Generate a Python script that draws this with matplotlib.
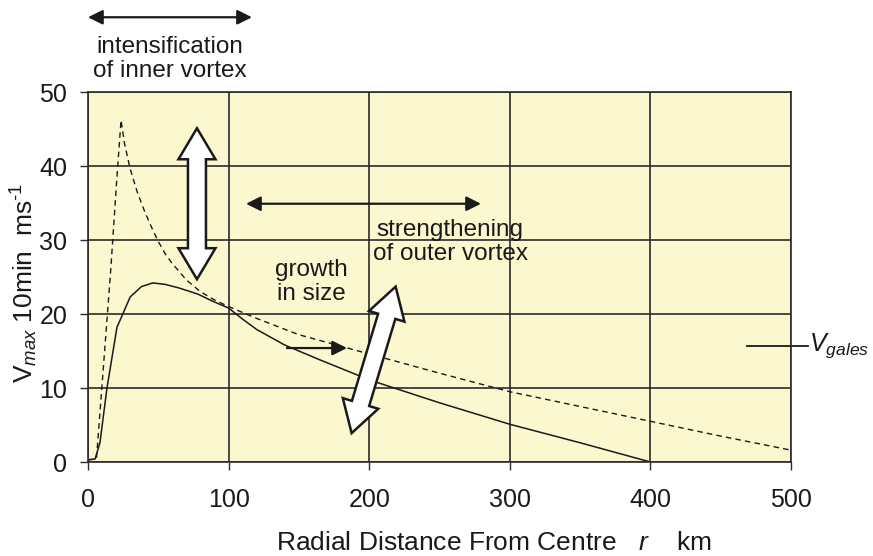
import numpy as np
import matplotlib
matplotlib.use("Agg")
import matplotlib.pyplot as plt
from matplotlib.patches import Polygon
from matplotlib.transforms import IdentityTransform

plt.rcParams['font.family'] = ['Liberation Sans', 'DejaVu Sans']
plt.rcParams['mathtext.fontset'] = 'custom'
plt.rcParams['mathtext.rm'] = 'Liberation Sans'
plt.rcParams['mathtext.it'] = 'Liberation Sans:italic'

# profile after intensification / growth (solid)
r_solid = [0, 5, 8.5, 13.5, 20.6, 30, 38, 46, 55, 65, 78, 89, 100, 110, 120, 140, 165, 191, 200, 250, 300, 350, 400]
v_solid = [0.3, 0.4, 2.6, 10.0, 18.2, 22.3, 23.7, 24.2, 24.0, 23.5, 22.7, 21.7, 20.8, 19.3, 17.9, 15.8, 13.8, 11.8, 11.1, 8.0, 5.1, 2.6, 0.0]

# profile with intense inner core (dashed)
r_dash = [0, 6, 16, 20.4, 23.5, 26, 30, 35, 40, 45, 50, 55, 60, 70, 80, 90, 100, 120, 150, 200, 250, 300, 350, 400, 450, 500]
v_dash = [0.3, 0.4, 25.5, 38.0, 46.2, 43.0, 39.6, 36.5, 34.0, 31.8, 29.8, 28.1, 26.8, 24.6, 23.0, 21.9, 21.0, 19.4, 17.2, 14.6, 12.0, 9.5, 7.5, 5.5, 3.5, 1.6]

x_ticks = [0, 100, 200, 300, 400, 500]
y_ticks = [0, 10, 20, 30, 40, 50]
v_gales = 15.7

fig = plt.figure(figsize=(8.73, 5.56), dpi=100)
ax = fig.add_axes([88 / 873, 1 - 462 / 556, (791 - 88) / 873, (462 - 92) / 556])
ax.set_facecolor('#fbf7cf')
ax.set_xlim(0, 500)
ax.set_ylim(0, 50)
ax.set_xticks(x_ticks)
ax.set_yticks(y_ticks)
ax.grid(True, color='#2b2b2b', linewidth=1.2)
ax.set_axisbelow(True)
for s in ax.spines.values():
    s.set_color('#2b2b2b')
    s.set_linewidth(1.2)
ax.tick_params(axis='both', direction='out', length=6, width=1, color='#2b2b2b',
               labelsize=18, labelcolor='#1a1a1a')
ax.tick_params(axis='x', pad=13)
ax.tick_params(axis='y', pad=9)

ax.plot(r_solid, v_solid, color='#1a1a1a', linewidth=1.1)
ax.plot(r_dash, v_dash, color='#1a1a1a', linewidth=1.0, linestyle=(0, (4, 3)))

# labels
fig.text(494 / 873, 1 - 543 / 556, r'Radial Distance From Centre   $\mathit{r}$    km',
         ha='center', va='center', fontsize=19, color='#1a1a1a')
fig.text(24 / 873, 1 - 283 / 556, r'$\mathrm{V}_{\mathit{max}}$ 10min  ms$^{\text{-1}}$',
         ha='center', va='center', rotation=90, fontsize=19, color='#1a1a1a')

# thin black arrows
arrow_kw = dict(arrowstyle='<|-|>', color='#1a1a1a', lw=1.6, mutation_scale=22,
                shrinkA=0, shrinkB=0)
ax.annotate('', xy=(0, 60.1), xytext=(116.6, 60.1), arrowprops=arrow_kw, annotation_clip=False)
ax.annotate('', xy=(112.4, 34.9), xytext=(279.5, 34.9), arrowprops=arrow_kw)
ax.annotate('', xy=(184.2, 15.4), xytext=(141.5, 15.4),
            arrowprops=dict(arrowstyle='-|>', color='#1a1a1a', lw=1.6, mutation_scale=22,
                            shrinkA=0, shrinkB=0))

# texts
txt_kw = dict(ha='center', va='center', fontsize=17.5, color='#1a1a1a', linespacing=1.1)
ax.text(58.3, 54.5, 'intensification\nof inner vortex', clip_on=False, **txt_kw)
ax.text(257.5, 29.7, 'strengthening\nof outer vortex', **txt_kw)
ax.text(159, 24.3, 'growth\nin size', **txt_kw)

# V gales marker
ax.plot([469, 512], [v_gales, v_gales], color='#1a1a1a', linewidth=1.3, clip_on=False)
ax.text(513, v_gales, r'$V_{gales}$', ha='left', va='center', fontsize=18,
        color='#1a1a1a', clip_on=False)


def block_arrow(p1, p2, shaft=9, head=18.5, head_len=31):
    fig.canvas.draw()
    a = ax.transData.transform(p1)
    b = ax.transData.transform(p2)
    d = b - a
    L = np.hypot(*d)
    u = d / L
    n = np.array([-u[1], u[0]])
    pts = [a,
           a + u * head_len + n * head,
           a + u * head_len + n * shaft,
           b - u * head_len + n * shaft,
           b - u * head_len + n * head,
           b,
           b - u * head_len - n * head,
           b - u * head_len - n * shaft,
           a + u * head_len - n * shaft,
           a + u * head_len - n * head]
    poly = Polygon(pts, closed=True, facecolor='white', edgecolor='#1a1a1a',
                   linewidth=1.8, transform=IdentityTransform(), zorder=5)
    fig.patches.append(poly)
    poly.set_figure(fig)


block_arrow((77.5, 45.1), (77.5, 24.7))
block_arrow((218.8, 23.7), (187.5, 3.9))

fig.savefig('out.png', dpi=100)
